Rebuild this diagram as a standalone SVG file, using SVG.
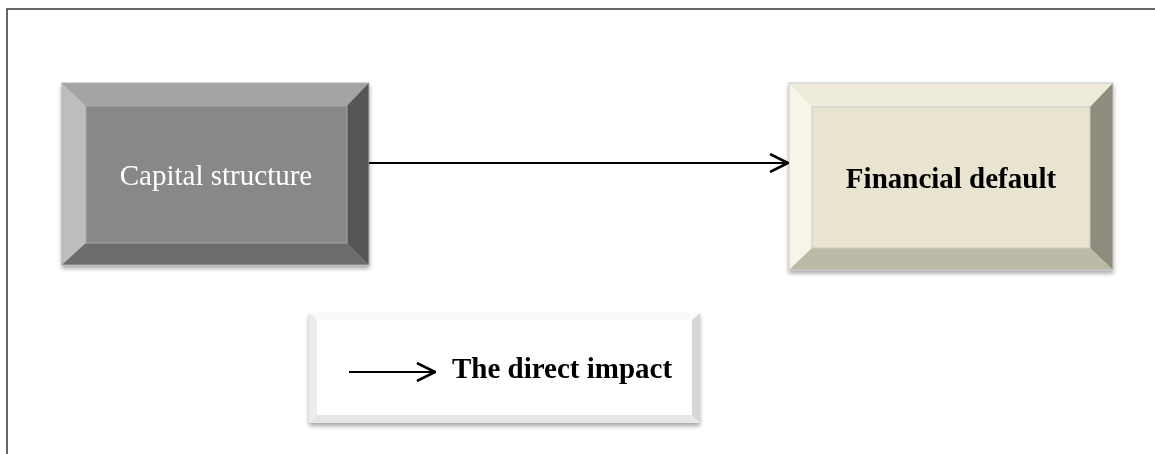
<svg xmlns="http://www.w3.org/2000/svg" width="1155" height="454" viewBox="0 0 1155 454">
<defs>
<filter id="sh" x="-5%" y="-5%" width="110%" height="120%">
<feGaussianBlur in="SourceAlpha" stdDeviation="2"/>
<feOffset dx="0" dy="3" result="b"/>
<feComponentTransfer><feFuncA type="linear" slope="0.35"/></feComponentTransfer>
<feMerge><feMergeNode/><feMergeNode in="SourceGraphic"/></feMerge>
</filter>
<marker id="arr" viewBox="0 0 20 20" refX="19" refY="10" markerWidth="20" markerHeight="20" markerUnits="userSpaceOnUse" orient="auto">
<path d="M1,1 L19,10 L1,19" fill="none" stroke="#000" stroke-width="2.6"/>
</marker>
<style>
.t{font-family:"Liberation Serif","Times New Roman",serif;font-size:29px;text-anchor:middle}
.b{font-weight:bold;fill:#000}
</style>
</defs>
<path d="M7,454 L7,9 L1155,9" fill="none" stroke="#333" stroke-width="1.5"/>
<g id="capital-structure" filter="url(#sh)">
<rect x="62" y="83" width="307" height="182" fill="#8a8a8a"/>
<polygon points="62,83 369,83 347,106 86,106" fill="#a4a4a4"/>
<polygon points="62,83 86,106 86,243 62,265" fill="#bdbdbd"/>
<polygon points="369,83 369,265 347,243 347,106" fill="#575757"/>
<polygon points="62,265 86,243 347,243 369,265" fill="#6c6c6c"/>
<rect x="86" y="106" width="261" height="137" fill="#888" stroke="#a8a8a8" stroke-width="1"/>
<rect x="62" y="83" width="307" height="182" fill="none" stroke="#b0b0b0" stroke-width="1"/>
<text class="t" x="216" y="185" fill="#fff">Capital structure</text>
</g>
<g id="financial-default" filter="url(#sh)">
<rect x="789" y="83" width="324" height="187" fill="#e8e4d0"/>
<polygon points="789,83 1113,83 1090,107 812,107" fill="#efebdb"/>
<polygon points="789,83 812,107 812,248 789,270" fill="#f7f5ea"/>
<polygon points="1113,83 1113,270 1090,248 1090,107" fill="#8e8c7d"/>
<polygon points="789,270 812,248 1090,248 1113,270" fill="#bcb9a6"/>
<rect x="812" y="107" width="278" height="141" fill="#e8e4d0" stroke="#c9c9c9" stroke-width="1"/>
<rect x="789" y="83" width="324" height="187" fill="none" stroke="#c8c8c8" stroke-width="1"/>
<text class="t b" x="951" y="188">Financial default</text>
</g>
<g id="legend" filter="url(#sh)">
<rect x="309" y="313" width="391" height="110" fill="#fff"/>
<polygon points="309,313 700,313 692,320 317,320" fill="#fafafa"/>
<polygon points="309,313 317,320 317,415 309,423" fill="#ececec"/>
<polygon points="700,313 700,423 692,415 692,320" fill="#d6d6d6"/>
<polygon points="309,423 317,415 692,415 700,423" fill="#e6e6e6"/>
<rect x="317" y="320" width="375" height="95" fill="#fff"/>
<line x1="349" y1="372" x2="435" y2="372" stroke="#000" stroke-width="2" marker-end="url(#arr)"/>
<text class="t b" x="562" y="378">The direct impact</text>
</g>
<g id="connectors">
<line x1="369" y1="163" x2="788" y2="163" stroke="#000" stroke-width="2.2" marker-end="url(#arr)"/>
</g>
</svg>
